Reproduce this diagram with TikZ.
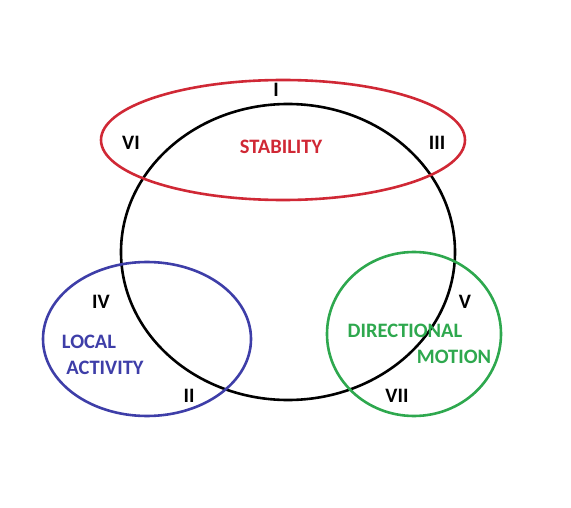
\documentclass[tikz,border=0pt]{standalone}
\usepackage{fontspec}
\setmainfont{Carlito}
\usepackage{xcolor}
\usepackage{tikz}
\usetikzlibrary{positioning}

\definecolor{stabred}{RGB}{208,40,53}
\definecolor{locblue}{RGB}{62,62,168}
\definecolor{dirgreen}{RGB}{46,168,78}

\tikzset{
	ring/.style={line width=2.6pt},
	roman/.style={font=\fontsize{20.5}{24}\selectfont\bfseries, inner sep=0pt},
	tag/.style={font=\fontsize{20.5}{24}\selectfont\bfseries, inner sep=0pt, align=left}
}

\begin{document}
\begin{tikzpicture}[x=1pt,y=-1pt]
	\useasboundingbox (0,0) rectangle (571,508);
	
	% main ring
	\draw[ring] (288,252) ellipse (167 and 148);
	% stability
	\draw[ring, stabred] (283,140) ellipse (182 and 60);
	% local activity
	\draw[ring, locblue] (147,339) ellipse (104 and 77);
	% directional motion
	\draw[ring, dirgreen] (414,334) ellipse (87 and 82);
	
	% regions
	\node[roman] (r1) at (276,90) {I};
	\node[roman] (r6) at (131,143) {VI};
	\node[roman] (r3) at (437,143) {III};
	\node[roman] (r4) at (101,302) {IV};
	\node[roman] (r2) at (189,396) {II};
	\node[roman] (r5) at (465,302) {V};
	\node[roman] (r7) at (397,396) {VII};
	
	% set names
	\node[tag, stabred] (stab) at (281,147) {STABILITY};
	\node[tag, locblue] (loc) at (89,342) {LOCAL};
	\node[tag, locblue] (act) at (105,368) {ACTIVITY};
	\node[tag, dirgreen] (dir) at (405,331) {DIRECTIONAL};
	\node[tag, dirgreen] (mot) at (454,357) {MOTION};
\end{tikzpicture}
\end{document}
